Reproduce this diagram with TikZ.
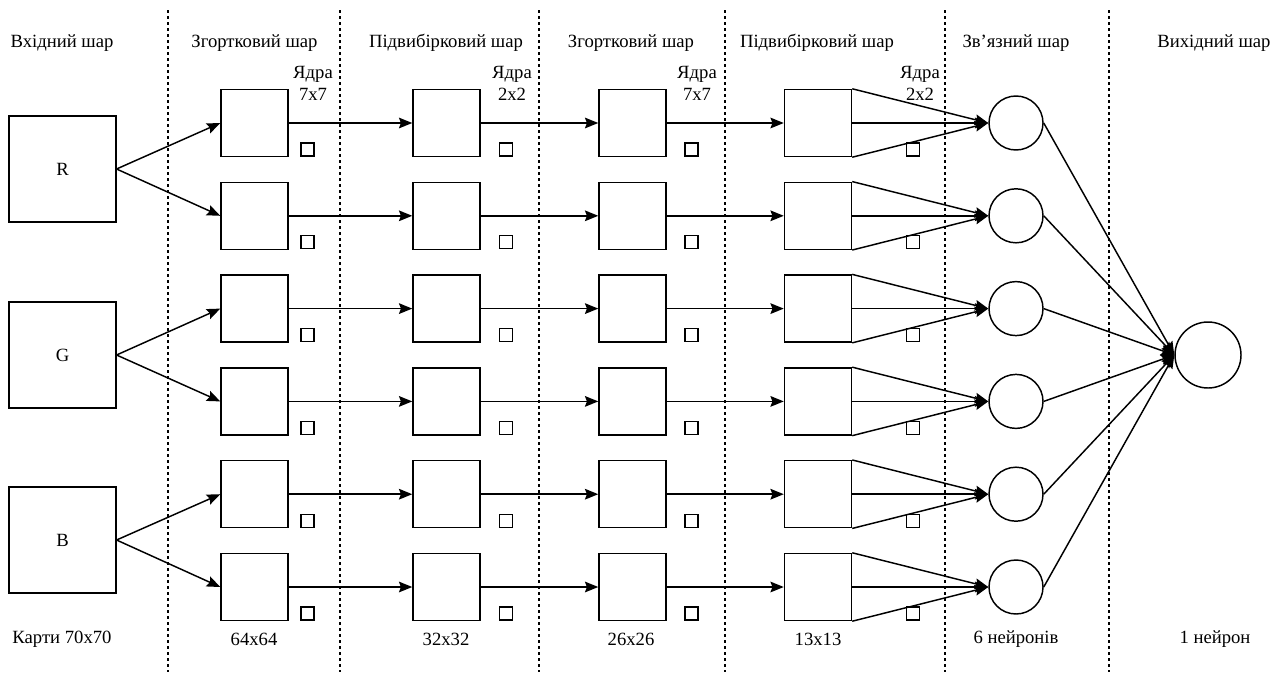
\documentclass[tikz,border=0pt]{standalone}
\usepackage{fontspec}
\setmainfont{Liberation Serif}
\usetikzlibrary{arrows.meta,positioning,calc}

\begin{document}
\begin{tikzpicture}[
    x=0.75pt, y=-0.75pt,
    font=\fontsize{14}{16.5}\selectfont,
    inmap/.style={draw, line width=1.1pt, minimum width=80pt, minimum height=79.5pt, inner sep=0pt},
    fmap/.style={draw, line width=1.1pt, minimum size=50.25pt, inner sep=0pt},
    kernel/.style={draw, line width=0.9pt, minimum size=9.75pt, inner sep=0pt},
    neuron/.style={draw, circle, line width=1.1pt, minimum size=40.5pt, inner sep=0pt},
    link/.style={line width=1.1pt, -{Stealth[length=10pt,width=8pt,inset=1.5pt]}},
    sep/.style={line width=0.8pt, dash pattern=on 2.5pt off 2pt},
    note/.style={align=center, inner sep=0pt}
  ]
  \useasboundingbox (0,0) rectangle (1281,672);

  % layer borders
  \foreach \x in {168,340,539,725,945,1109}
    \draw[sep] (\x,10) -- (\x,672);

  % headers and sizes
  \foreach \x/\t [count=\k] in {62/Вхідний шар, 254.5/Згортковий шар, 446/Підвибірковий шар,
      631/Згортковий шар, 817/Підвибірковий шар, 1016/Зв’язний шар, 1214/Вихідний шар}
    \node (head\k) at (\x,43) {\t};
  \foreach \x/\t [count=\k] in {62/Карти 70x70, 254/64x64, 446/32x32, 631/26x26,
      818/13x13, 1016/6 нейронів, 1215/1 нейрон}
    \node (size\k) at (\x,639) {\t};

  % kernels
  \node[note] (kern1) at (313,83) {Ядра\\7x7};
  \node[note] (kern2) at (512,83) {Ядра\\2x2};
  \node[note] (kern3) at (697,83) {Ядра\\7x7};
  \node[note] (kern4) at (920,83) {Ядра\\2x2};

  % input maps
  \node[inmap] (inR) at (62.5,169) {R};
  \node[inmap] (inG) at (62.5,355) {G};
  \node[inmap] (inB) at (62.5,540) {B};

  % feature maps
  \foreach \r [evaluate=\r as \y using 123+(\r-1)*92.8] in {1,...,6} {
    \node[fmap] (ca\r) at (254.5,\y) {};
    \node[fmap] (pa\r) at (446.5,\y) {};
    \node[fmap] (cb\r) at (632.5,\y) {};
    \node[fmap] (pb\r) at (818,\y) {};
    \node[neuron] (fc\r) at (1016,\y) {};
    \node[kernel] (ka\r) at (307.5,\y+26.5) {};
    \node[kernel] (kb\r) at (506,\y+26.5) {};
    \node[kernel] (kc\r) at (691.5,\y+26.5) {};
    \node[kernel] (kd\r) at (913,\y+26.5) {};
    \draw[link] (ca\r.east) -- (pa\r.west);
    \draw[link] (pa\r.east) -- (cb\r.west);
    \draw[link] (cb\r.east) -- (pb\r.west);
    \draw[link] (pb\r.north east) -- (fc\r.west);
    \draw[link] (pb\r.east) -- (fc\r.west);
    \draw[link] (pb\r.south east) -- (fc\r.west);
  }
  \foreach \c/\r in {R/1,R/2,G/3,G/4,B/5,B/6}
    \draw[link] (in\c.east) -- (ca\r.west);

  % output
  \node[neuron, minimum size=49.5pt] (out) at (1208,355) {};
  \foreach \r in {1,...,6}
    \draw[link] (fc\r.east) -- (out.west);
\end{tikzpicture}
\end{document}
